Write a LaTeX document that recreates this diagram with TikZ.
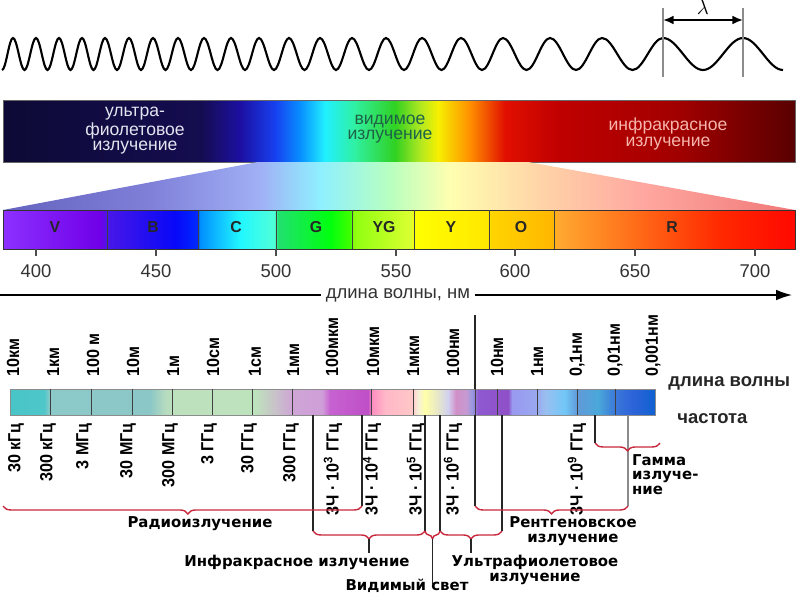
\documentclass[tikz,border=0pt]{standalone}
\usepackage{fontspec}
\setmainfont{Liberation Sans}
\newfontfamily\capfont{DejaVu Sans}
\newfontfamily\narrowfont[FakeStretch=0.92]{Liberation Sans}
\usetikzlibrary{arrows.meta,decorations.pathreplacing}
\definecolor{bracered}{HTML}{C8283C}
\definecolor{uvtext}{HTML}{E4E4F0}
\definecolor{vistext}{HTML}{1E6248}
\definecolor{irtext}{HTML}{F6B4AC}
% colour stops: bp = 25 + 50*(x-x0)/width
\pgfdeclarehorizontalshading{topband}{100bp}{rgb(0bp)=(0.05,0.04,0.21); rgb(25bp)=(0.05,0.04,0.21);
  rgb(37.44bp)=(0.08,0.05,0.31); rgb(39.96bp)=(0.11,0.06,0.63); rgb(42.17bp)=(0.09,0.25,0.94);
  rgb(43.75bp)=(0.03,0.56,1); rgb(45.33bp)=(0.13,0.94,1); rgb(47.22bp)=(0.19,0.94,0.63);
  rgb(49.75bp)=(0.19,0.82,0.13); rgb(51.33bp)=(0.69,0.91,0.13); rgb(52.46bp)=(0.97,0.94,0);
  rgb(54.48bp)=(1,0.56,0); rgb(56.69bp)=(0.88,0.06,0); rgb(60.16bp)=(0.75,0,0);
  rgb(67.74bp)=(0.63,0,0); rgb(75bp)=(0.35,0,0); rgb(100bp)=(0.35,0,0)}
\pgfdeclarehorizontalshading{fanband}{100bp}{rgb(0bp)=(0.39,0.39,0.75); rgb(25bp)=(0.39,0.39,0.75);
  rgb(34.28bp)=(0.5,0.5,0.85); rgb(41.22bp)=(0.63,0.69,0.96); rgb(45.01bp)=(0.56,0.94,1);
  rgb(49.43bp)=(0.72,1,0.75); rgb(53.22bp)=(1,1,0.69); rgb(58.27bp)=(1,0.85,0.66);
  rgb(65.21bp)=(1,0.66,0.63); rgb(75bp)=(0.94,0.47,0.47); rgb(100bp)=(0.94,0.47,0.47)}
\pgfdeclarehorizontalshading{visband}{100bp}{rgb(0bp)=(0.55,0.19,1); rgb(25bp)=(0.55,0.19,1);
  rgb(31.12bp)=(0.44,0,0.91); rgb(31.63bp)=(0.28,0.09,0.91); rgb(35.86bp)=(0.03,0.03,0.97);
  rgb(37.25bp)=(0,0.16,1); rgb(37.44bp)=(0,0.56,1); rgb(39.96bp)=(0.13,0.97,1);
  rgb(42.11bp)=(0.31,1,0.85); rgb(42.36bp)=(0.13,0.88,0.44); rgb(45.64bp)=(0,1,0.06);
  rgb(46.91bp)=(0.25,1,0); rgb(47.16bp)=(0.56,1,0.06); rgb(50.69bp)=(0.85,1,0.19);
  rgb(51.07bp)=(1,1,0); rgb(55.49bp)=(1,0.91,0); rgb(55.87bp)=(1,0.83,0);
  rgb(59.66bp)=(1,0.72,0); rgb(60.04bp)=(1,0.66,0.19); rgb(65.21bp)=(1,0.41,0.09);
  rgb(70.27bp)=(1,0.16,0); rgb(75bp)=(1,0.03,0); rgb(100bp)=(1,0.03,0)}
\pgfdeclarehorizontalshading{emband}{100bp}{rgb(0bp)=(0.28,0.77,0.78); rgb(25bp)=(0.28,0.77,0.78);
  rgb(27.64bp)=(0.31,0.78,0.79); rgb(28.10bp)=(0.55,0.79,0.79); rgb(35.85bp)=(0.55,0.78,0.78);
  rgb(37.02bp)=(0.71,0.86,0.75); rgb(37.56bp)=(0.74,0.88,0.74); rgb(43.99bp)=(0.74,0.89,0.74);
  rgb(45.31bp)=(0.78,0.78,0.78); rgb(46.86bp)=(0.81,0.65,0.84); rgb(49.19bp)=(0.81,0.62,0.85);
  rgb(49.81bp)=(0.78,0.38,0.82); rgb(52.75bp)=(0.75,0.31,0.78); rgb(53.06bp)=(1,0.56,0.75);
  rgb(54.07bp)=(1,0.72,0.78); rgb(56.16bp)=(1,0.78,0.78); rgb(56.63bp)=(0.96,0.94,0.85);
  rgb(57.17bp)=(1,1,0.66); rgb(58.10bp)=(0.91,0.91,0.78); rgb(58.95bp)=(0.82,0.82,0.94);
  rgb(59.57bp)=(0.82,0.56,0.78); rgb(60.35bp)=(0.78,0.6,0.82); rgb(60.81bp)=(0.6,0.6,0.88);
  rgb(61.28bp)=(0.56,0.35,0.82); rgb(63.60bp)=(0.56,0.31,0.78); rgb(63.91bp)=(0.6,0.6,0.94);
  rgb(65.85bp)=(0.6,0.66,0.94); rgb(66.47bp)=(0.6,0.75,0.94); rgb(68.02bp)=(0.44,0.78,0.97);
  rgb(68.95bp)=(0.38,0.6,0.85); rgb(70.58bp)=(0.29,0.66,0.85); rgb(71.90bp)=(0.23,0.47,0.85);
  rgb(73.22bp)=(0.18,0.39,0.85); rgb(75bp)=(0.06,0.38,0.82); rgb(100bp)=(0.06,0.38,0.82)}
\tikzset{
  wave/.style={line width=1.2pt},
  gline/.style={line width=0.6pt, black!45},
  vline/.style={line width=0.6pt, black!85},
  sepline/.style={line width=0.5pt, black!75},
  dimarrow/.style={line width=1.1pt, {Latex[length=6pt,width=5pt]}-{Latex[length=6pt,width=5pt]}},
  bandtext/.style={font=\fontsize{10}{9}\selectfont, align=center},
  cletter/.style={font=\bfseries\fontsize{9}{10}\selectfont, text=black!85},
  nmtick/.style={font=\fontsize{10.5}{12}\selectfont, text=black!80},
  wlen/.style={rotate=90, anchor=west, inner sep=1pt, font=\narrowfont\bfseries\fontsize{10}{11}\selectfont},
  freq/.style={rotate=90, anchor=east, inner sep=1pt, font=\narrowfont\bfseries\fontsize{10}{11}\selectfont},
  sidelab/.style={anchor=west, inner sep=0pt, font=\bfseries\fontsize{10.5}{12}\selectfont, text=black!85},
  brc/.style={draw=bracered, line width=0.8pt, decorate, decoration={brace, mirror, amplitude=4.5pt}},
  rlab/.style={font=\capfont\bfseries\fontsize{8.5}{8.5}\selectfont, align=center, inner sep=1pt},
}
\begin{document}
\begin{tikzpicture}[x=0.02cm, y=-0.02cm]
  \useasboundingbox (0,0) rectangle (800,600);
  % chirped wave and the wavelength marker
  \draw[wave] (2,70) foreach \t/\p/\n in {2/13/24.5, 24.5/36/47.5, 47.5/59/70.5, 70.5/82/93.5,
      93.5/105/117, 117/129/141, 141/153/165.5, 165.5/178/191, 191/204/217.5, 217.5/231/245,
      245/259/274, 274/289/304.5, 304.5/320/336, 336/352/369, 369/386/404, 404/422/441.5,
      441.5/461/482, 482/503/526.5, 526.5/550/576, 576/602/632.5, 632.5/663/703, 703/743/783}
    { cos ({(\t+\p)/2},54) sin (\p,38) cos ({(\p+\n)/2},54) sin (\n,70) };
  \coordinate (lamA) at (663,8); \coordinate (lamB) at (743,8);
  \draw[gline] (lamA) -- (663,77); \draw[gline] (lamB) -- (743,77);
  \draw[dimarrow] (663,20) -- (743,20) node[midway, above=-1pt, font=\large] (lam) {$\lambda$};
  % the whole band
  \shadedraw[shading=topband, draw=black!60, line width=0.4pt] (3,100) rectangle (795,162);
  \node[bandtext, text=uvtext] (uv) at (135,131) {ультра-\\фиолетовое\\излучение};
  \node[bandtext, text=vistext] (vis) at (390,129) {видимое\\излучение};
  \node[bandtext, text=irtext] (ir) at (668,134) {инфракрасное\\излучение};
  % fan out to the visible part
  \shade[shading=fanband] (258,162) -- (528,162) -- (795,210) -- (3,210) -- cycle;
  \shadedraw[shading=visband, draw=black!80, line width=0.5pt] (3,210) rectangle (795,249);
  \foreach \x in {107,198,276,352,414,489,554}
    \draw[sepline] (\x,210) -- (\x,249);
  \foreach \x/\c in {55/V,153/B,236/C,316/G,384/YG,451/Y,521/O,672/R}
    \node[cletter] (c\c) at (\x,227) {\c};
  \foreach \x/\n in {36/400,156/450,276/500,396/550,515/600,635/650,755/700}
  {
    \draw[line width=0.6pt, black!70] (\x,249) -- (\x,256);
    \node[nmtick] (n\n) at (\x,271) {\n};
  }
  \draw[line width=0.8pt, -{Latex[length=9pt,width=6pt]}] (0,295) -- (792,295);
  \node[nmtick, fill=white, inner sep=3pt] (axl) at (398,295) {длина волны, нм};
  % electromagnetic scale
  \draw[vline] (475,315) -- (475,389);
  \shadedraw[shading=emband, draw=black!45, line width=0.5pt] (10,389) rectangle (655,415);
  \foreach \x in {50,91,132,172,212,252,292,371,413,475,497,537,577,615}
    \draw[sepline] (\x,389) -- (\x,415);
  \foreach \x/\t [count=\i] in {13/10км, 53/1км, 93/100 м, 133/10м, 173/1м, 213/10см, 255/1см,
      293/1мм, 332/100мкм, 373/10мкм, 413/1мкм, 453/100нм, 497/10нм, 537/1нм, 577/{0,1нм},
      615/{0,01нм}, 653/{0,001нм}}
    \node[wlen] (w\i) at (\x,379) {\t};
  \foreach \x/\t [count=\i] in {16/30 кГц, 48/300 кГц, 84/3 МГц, 128/30 МГц, 170/300 МГц,
      209/3 ГГц, 249/30 ГГц, 291/300 ГГц, 333/3Ч · 10\textsuperscript{3} ГГц,
      372/3Ч · 10\textsuperscript{4} ГГц, 416/3Ч · 10\textsuperscript{5} ГГц,
      453/3Ч · 10\textsuperscript{6} ГГц, 577/3Ч · 10\textsuperscript{9} ГГц}
    \node[freq] (f\i) at (\x,421) {\t};
  \node[sidelab] (wl) at (668,383) {длина волны};
  \node[sidelab] (fr) at (677,419) {частота};
  % range limits
  \draw[vline] (313,415) -- (313,531);
  \draw[vline] (362,415) -- (362,506);
  \draw[vline] (425,415) -- (425,531);
  \draw[vline] (440,415) -- (440,531);
  \draw[vline] (475,415) -- (475,506);
  \draw[vline] (502,415) -- (502,531);
  \draw[vline] (595,415) -- (595,443);
  \draw[gline, line width=0.9pt] (628,415) -- (628,506);
  % braces
  \draw[brc, decoration={aspect=0.515}] (3,506) -- (362,506);
  \draw[brc] (313,531) -- (425,531);
  \draw[brc] (425,531) -- (440,531);
  \draw[brc] (440,531) -- (502,531);
  \draw[brc] (475,506) -- (628,506);
  \draw[brc] (595,443) -- (660,443);
  \draw[vline] (369,539) -- (369,553);
  \draw[vline] (432.5,539) -- (432.5,584);
  \draw[vline] (471,539) -- (471,553);
  % range names
  \node[rlab] (radio) at (200,524) {Радиоизлучение};
  \node[rlab] (irr) at (297,562) {Инфракрасное излучение};
  \node[rlab] (light) at (407,586) {Видимый свет};
  \node[rlab] (uvr) at (535,570) {Ультрафиолетовое\\излучение};
  \node[rlab] (xray) at (573,531) {Рентгеновское\\излучение};
  \node[rlab, anchor=north west, align=left] (gamma) at (630,452) {Гамма\\излуче-\\ние};
\end{tikzpicture}
\end{document}
